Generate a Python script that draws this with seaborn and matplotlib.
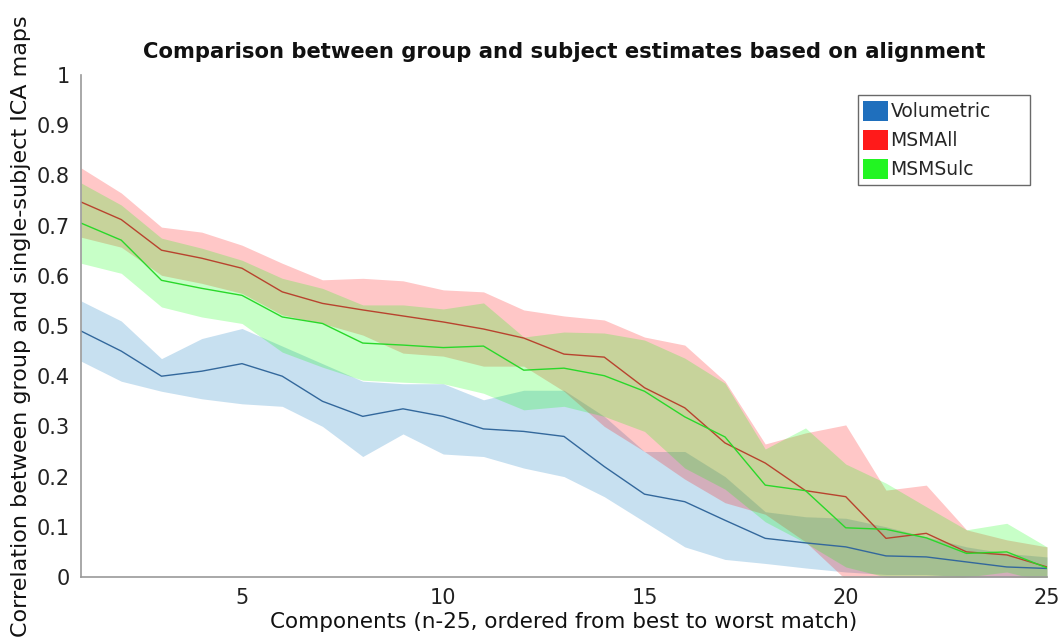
import numpy as np
import pandas as pd
import matplotlib
matplotlib.use("Agg")
import matplotlib.pyplot as plt
import seaborn as sns
from matplotlib.patches import Patch

# ---------------- data ----------------
components = list(range(1, 26))
series_names = ["Volumetric", "MSMAll", "MSMSulc"]

vol_mean = [0.49, 0.45, 0.40, 0.41, 0.425, 0.40, 0.35, 0.32, 0.335, 0.32, 0.295, 0.29, 0.28,
            0.22, 0.165, 0.15, 0.113, 0.077, 0.068, 0.06, 0.042, 0.04, 0.03, 0.02, 0.017]
vol_upper = [0.55, 0.51, 0.435, 0.475, 0.495, 0.46, 0.425, 0.39, 0.385, 0.385, 0.353, 0.372, 0.372,
             0.32, 0.25, 0.25, 0.2, 0.13, 0.12, 0.117, 0.1, 0.08, 0.06, 0.047, 0.04]
vol_lower = [0.43, 0.39, 0.37, 0.355, 0.345, 0.34, 0.30, 0.24, 0.285, 0.245, 0.24, 0.217, 0.20,
             0.16, 0.11, 0.06, 0.035, 0.027, 0.018, 0.01, 0.005, 0.005, 0.0, 0.0, 0.0]

msmall_mean = [0.747, 0.712, 0.651, 0.635, 0.615, 0.568, 0.545, 0.532, 0.52, 0.508, 0.494, 0.476, 0.444,
               0.438, 0.377, 0.337, 0.267, 0.227, 0.172, 0.16, 0.077, 0.087, 0.05, 0.044, 0.02]
msmall_upper = [0.815, 0.765, 0.697, 0.687, 0.661, 0.625, 0.592, 0.595, 0.59, 0.572, 0.568, 0.532, 0.52,
                0.512, 0.478, 0.462, 0.39, 0.265, 0.287, 0.303, 0.173, 0.183, 0.094, 0.074, 0.06]
msmall_lower = [0.677, 0.657, 0.601, 0.585, 0.565, 0.522, 0.505, 0.482, 0.446, 0.44, 0.42, 0.42, 0.37,
                0.30, 0.25, 0.195, 0.148, 0.125, 0.07, -0.005, -0.02, -0.01, 0.0, 0.0, -0.005]

msmsulc_mean = [0.705, 0.671, 0.591, 0.575, 0.561, 0.518, 0.505, 0.466, 0.462, 0.457, 0.46, 0.412, 0.416,
                0.401, 0.37, 0.319, 0.279, 0.183, 0.172, 0.098, 0.095, 0.078, 0.047, 0.05, 0.018]
msmsulc_upper = [0.785, 0.741, 0.675, 0.655, 0.631, 0.595, 0.575, 0.542, 0.542, 0.534, 0.546, 0.478, 0.488,
                 0.486, 0.472, 0.436, 0.386, 0.255, 0.297, 0.225, 0.187, 0.14, 0.094, 0.107, 0.06]
msmsulc_lower = [0.625, 0.605, 0.538, 0.518, 0.505, 0.448, 0.418, 0.392, 0.388, 0.385, 0.366, 0.333, 0.34,
                 0.32, 0.29, 0.217, 0.175, 0.11, 0.068, 0.02, 0.0, -0.01, 0.0, 0.01, -0.01]

x_ticks = [5, 10, 15, 20, 25]
y_ticks = [0, 0.1, 0.2, 0.3, 0.4, 0.5, 0.6, 0.7, 0.8, 0.9, 1]
y_tick_labels = ["0", "0.1", "0.2", "0.3", "0.4", "0.5", "0.6", "0.7", "0.8", "0.9", "1"]

title_text = "Comparison between group and subject estimates based on alignment"
xlabel_text = "Components (n-25, ordered from best to worst match)"
ylabel_text = "Correlation between group and single-subject ICA maps"

# ---------------- tidy frame ----------------
means = [vol_mean, msmall_mean, msmsulc_mean]
uppers = [vol_upper, msmall_upper, msmsulc_upper]
lowers = [vol_lower, msmall_lower, msmsulc_lower]
frames = []
for name, m, u, l in zip(series_names, means, uppers, lowers):
    frames.append(pd.DataFrame({"component": components, "mean": m, "upper": u,
                                "lower": l, "alignment": name}))
df = pd.concat(frames, ignore_index=True)

fill_colors = {"Volumetric": (0.0, 0.447, 0.741), "MSMAll": (1.0, 0.0, 0.0), "MSMSulc": (0.0, 1.0, 0.0)}
line_colors = {"Volumetric": "#33689c", "MSMAll": "#b8432e", "MSMSulc": "#2ad82a"}
legend_colors = {"Volumetric": "#1f6fbd", "MSMAll": "#ff1a1a", "MSMSulc": "#22f522"}

# ---------------- figure ----------------
sns.set_theme(style="white")
plt.rcParams["font.family"] = ["DejaVu Sans"]

fig = plt.figure(figsize=(10.61, 6.38), dpi=100)
ax = fig.add_axes([81 / 1061, 1 - 577 / 638, (1047 - 81) / 1061, (577 - 75) / 638])

for name in series_names:
    sub = df[df["alignment"] == name]
    ax.fill_between(sub["component"], sub["lower"], sub["upper"],
                    color=fill_colors[name], alpha=0.22, linewidth=0)

sns.lineplot(data=df, x="component", y="mean", hue="alignment", palette=line_colors,
             hue_order=series_names, linewidth=1.0, ax=ax, legend=False)

ax.set_xlim(1, 25)
ax.set_ylim(0, 1)
ax.set_xticks(x_ticks)
ax.set_xticklabels([str(t) for t in x_ticks], fontsize=15)
ax.set_yticks(y_ticks)
ax.set_yticklabels(y_tick_labels, fontsize=15)
ax.tick_params(axis="both", direction="in", length=6, width=1, color="#777777",
               labelcolor="#222222", pad=8)

for side in ["top", "right"]:
    ax.spines[side].set_visible(False)
for side in ["left", "bottom"]:
    ax.spines[side].set_color("#999999")
    ax.spines[side].set_linewidth(1.2)

ax.set_title(title_text, fontsize=15.2, fontweight="bold", pad=12, color="#111111")
ax.set_xlabel(xlabel_text, fontsize=15.5, labelpad=3, color="#111111")
ax.set_ylabel(ylabel_text, fontsize=16, labelpad=4, color="#111111")

handles = [Patch(facecolor=legend_colors[n], edgecolor="none", label=n) for n in series_names]
leg = ax.legend(handles=handles, loc="upper left", bbox_to_anchor=(0.804, 0.0, 0.178, 0.96),
                mode="expand", fontsize=13.5, frameon=True, fancybox=False,
                handlelength=1.3, handleheight=1.3, handletextpad=0.15, borderpad=0.3,
                labelspacing=0.45, borderaxespad=0)
leg.get_frame().set_edgecolor("#444444")
leg.get_frame().set_linewidth(1.0)

fig.savefig("out.png", dpi=100)
